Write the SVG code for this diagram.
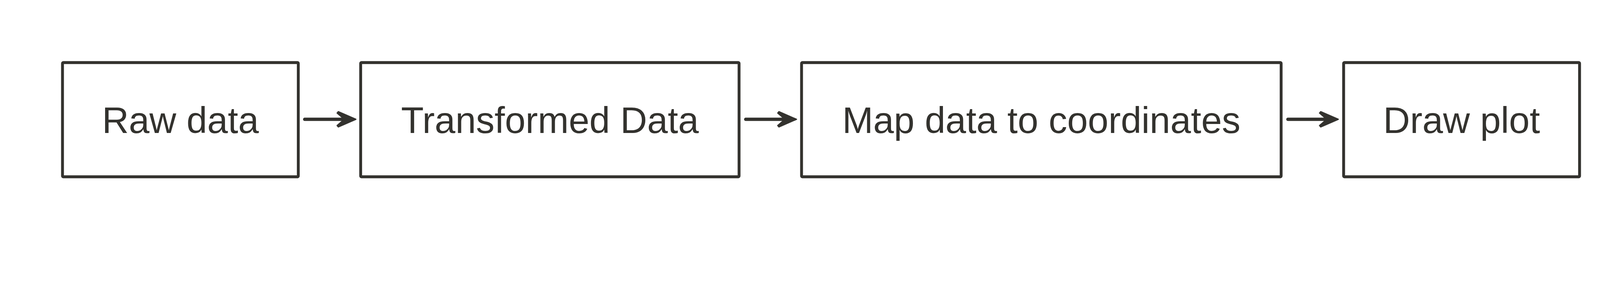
<svg xmlns="http://www.w3.org/2000/svg" width="4164" height="744" viewBox="0 0 4164 744">
  <style>
    .box { fill: #ffffff; stroke: #33322e; stroke-width: 7.3; stroke-linejoin: round; }
    .label { font-family: "Liberation Sans", Arial, Helvetica, sans-serif; font-size: 95px; fill: #33322e; text-anchor: middle; }
    .edge { fill: none; stroke: #33322e; stroke-width: 8.5; stroke-linecap: round; }
    .head { fill: #33322e; stroke: #33322e; stroke-width: 3; stroke-linejoin: round; }
  </style>
  <defs>
    <path id="arrowhead" class="head" d="M0,0 L-45,-19.5 L-48,-16 L-34,-4 L-34,4 L-48,16 L-45,19.5 Z"/>
  </defs>
  <rect width="4164" height="744" fill="#ffffff"/>
  <g id="connectors">
    <g id="edge-raw-transformed">
      <path class="edge" d="M780,305 L895,305"/>
      <use href="#arrowhead" x="911" y="305"/>
    </g>
    <g id="edge-transformed-map">
      <path class="edge" d="M1909,305 L2023,305"/>
      <use href="#arrowhead" x="2039" y="305"/>
    </g>
    <g id="edge-map-draw">
      <path class="edge" d="M3297,305 L3410,305"/>
      <use href="#arrowhead" x="3426" y="305"/>
    </g>
  </g>
  <g id="node-raw">
    <rect class="box" x="160" y="160" width="603.6" height="292" rx="2"/>
    <text class="label" x="461.8" y="340">Raw data</text>
  </g>
  <g id="node-transformed">
    <rect class="box" x="923.3" y="160" width="968.7" height="292" rx="2"/>
    <text class="label" x="1407.7" y="340">Transformed Data</text>
  </g>
  <g id="node-map">
    <rect class="box" x="2052" y="160" width="1227.7" height="292" rx="2"/>
    <text class="label" x="2665.9" y="340">Map data to coordinates</text>
  </g>
  <g id="node-draw">
    <rect class="box" x="3439.7" y="160" width="604" height="292" rx="2"/>
    <text class="label" x="3741.7" y="340">Draw plot</text>
  </g>
</svg>
